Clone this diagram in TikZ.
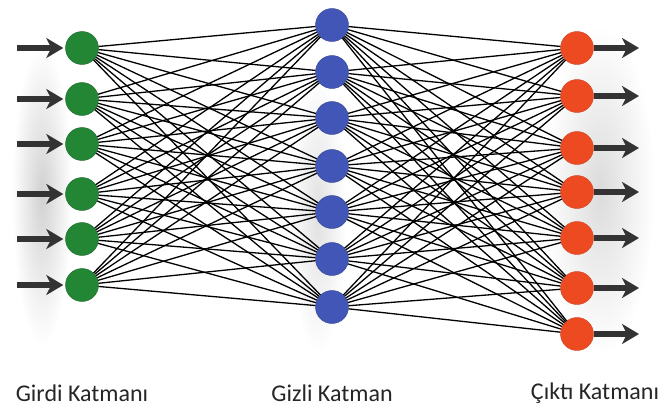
\documentclass[tikz,border=0pt]{standalone}
\usepackage{fontspec}
\setmainfont{Carlito}
\usepackage{tikz}
\usetikzlibrary{shapes,arrows.meta,backgrounds}

\definecolor{inGreen}{RGB}{34,134,52}
\definecolor{hidBlue}{RGB}{66,86,184}
\definecolor{outRed}{RGB}{238,74,34}

\tikzset{
  neurIn/.style={ draw=inGreen!75!black, circle, fill=inGreen, minimum size=33pt, inner sep=0pt }
}
\tikzset{
  neurHid/.style={ draw=hidBlue!75!black, circle, fill=hidBlue, minimum size=33pt, inner sep=0pt }
}
\tikzset{
  neurOut/.style={ draw=outRed!85!black, circle, fill=outRed, minimum size=33pt, inner sep=0pt }
}
\tikzset{
  syn/.style={ black, line width=1.3pt }
}
\tikzset{
  ioArr/.style={ black!80, line width=5.5pt, -{Stealth[length=17pt,width=20pt,inset=5pt]} }
}
\tikzset{
  lbl/.style={ font=\fontsize{24}{28}\selectfont, text=black!85 }
}

\begin{document}
\begin{tikzpicture}[x=1pt,y=-1pt]
      \useasboundingbox (0,0) rectangle (662,410);

      % input layer
      \foreach \i/\y in {1/48, 2/99, 3/144, 4/194, 5/239, 6/285} {
        \node[neurIn] (g\i) at (82,\y) {};
        \coordinate (a\i) at (17,\y);
      }
      % hidden layer
      \foreach \j/\y in {1/25, 2/72, 3/118, 4/166, 5/212, 6/259, 7/307} {
        \node[neurHid] (b\j) at (332,\y) {};
      }
      % output layer
      \foreach \k/\y in {1/48, 2/96, 3/148, 4/192, 5/238, 6/288, 7/334} {
        \node[neurOut] (r\k) at (577,\y) {};
        \coordinate (z\k) at (639,\y);
      }

      % all weights
      \foreach \i in {1,...,6}
        \foreach \j in {1,...,7}
          \draw[syn] (g\i) -- (b\j);
      \foreach \j in {1,...,7}
        \foreach \k in {1,...,7}
          \draw[syn] (b\j) -- (r\k);

      \foreach \i in {1,...,6}
        \draw[ioArr, shorten >=2pt] (a\i) -- (g\i.west);
      \foreach \k in {1,...,7}
        \draw[ioArr] (r\k.east) -- (z\k);

      \begin{scope}[on background layer]
        \shade[inner color=black!18, outer color=white] (42,195) ellipse (30 and 150);
        \shade[inner color=black!12, outer color=white] (318,215) ellipse (28 and 140);
        \shade[inner color=black!14, outer color=white] (600,190) ellipse (55 and 165);
      \end{scope}

      \node[lbl] (tIn) at (82,393) {Girdi Katmanı};
      \node[lbl] (tHid) at (332,393) {Gizli Katman};
      \node[lbl] (tOut) at (595,393) {Çıktı Katmanı};
    \end{tikzpicture}
\end{document}
